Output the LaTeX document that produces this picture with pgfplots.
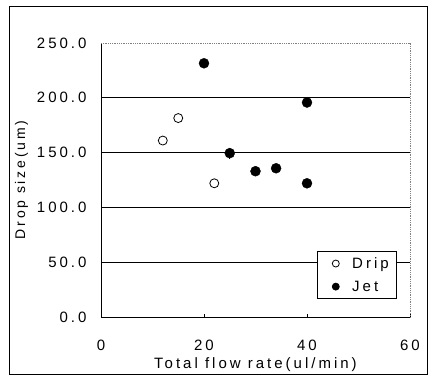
\documentclass[border=0pt]{standalone}
\usepackage{fontspec}
\setmainfont[LetterSpace=20]{Liberation Sans}
\usepackage{pgfplots}
\pgfplotsset{compat=1.18}
\begin{document}
\begin{tikzpicture}[x=1bp,y=1bp]
\useasboundingbox (0,0) rectangle (429,376);
\draw[line width=1pt] (9,2) rectangle (427,370);
\begin{axis}[
  at={(101bp,59bp)}, anchor=south west,
  scale only axis, width=309bp, height=274bp,
  xmin=0, xmax=60, ymin=0, ymax=250,
  xtick={0,20,40,60}, ytick={0,50,...,250},
  axis x line*=bottom, axis y line*=left,
  axis line style={black, line width=0.9pt, -},
  tick align=inside, major tick length=3bp,
  ytick style={draw=none},
  xtick style={black, line width=0.6pt},
  /pgf/number format/assume math mode=true,
  yticklabel style={/pgf/number format/fixed, /pgf/number format/fixed zerofill, /pgf/number format/precision=1, xshift=-11bp},
  font=\fontsize{15bp}{17bp}\selectfont,
  ticklabel style={font=\fontsize{15bp}{17bp}\selectfont},
  xticklabel style={yshift=-20bp},
  xlabel={Total flow rate(ul/min)},
  ylabel={Drop size(um)},
  xlabel style={yshift=0bp, font=\fontsize{15bp}{17bp}\selectfont},
  ylabel style={yshift=2bp, font=\fontsize{14bp}{16bp}\selectfont},
  legend style={at={(0.699,0.066)}, anchor=south west, draw=black, line width=0.8pt,
    font=\fontsize{15bp}{17bp}\selectfont, inner xsep=6bp, inner ysep=4bp, row sep=7bp,
    /tikz/every even column/.append style={column sep=4bp}},
  legend image code/.code={\path (0bp,0bp) (26bp,0bp); \draw[#1, mark size=3.5bp] plot coordinates {(12bp,0bp)};},
  legend cell align=left,
  clip=false,
]
\draw[black, line width=0.8pt] (rel axis cs:0,0.2) -- (rel axis cs:1,0.2);
\draw[black, line width=0.8pt] (rel axis cs:0,0.4) -- (rel axis cs:1,0.4);
\draw[black, line width=0.8pt] (rel axis cs:0,0.6) -- (rel axis cs:1,0.6);
\draw[black, line width=0.8pt] (rel axis cs:0,0.8) -- (rel axis cs:1,0.8);
\draw[gray, densely dotted, line width=0.8pt] (rel axis cs:0,1) -- (rel axis cs:1,1) -- (rel axis cs:1,0);
\addplot[only marks, mark=o, mark size=4.5bp, mark options={black, fill=white, line width=0.8pt}]
  coordinates {(12,161) (15,181.5) (22,122)};
\addlegendentry{Drip}
\addplot[only marks, mark=*, mark size=5bp, mark options={black, fill=black},
  error bars/.cd, y dir=both, y explicit, error bar style={black, line width=1pt}, error mark=none]
  coordinates {(20,231.5) +- (0,4) (40,195.7) +- (0,0) (25,149.5) +- (0,5) (30,133) +- (0,0) (34,135.7) +- (0,0) (40,122) +- (0,0)};
\addlegendentry{Jet}
\end{axis}
\end{tikzpicture}
\end{document}
